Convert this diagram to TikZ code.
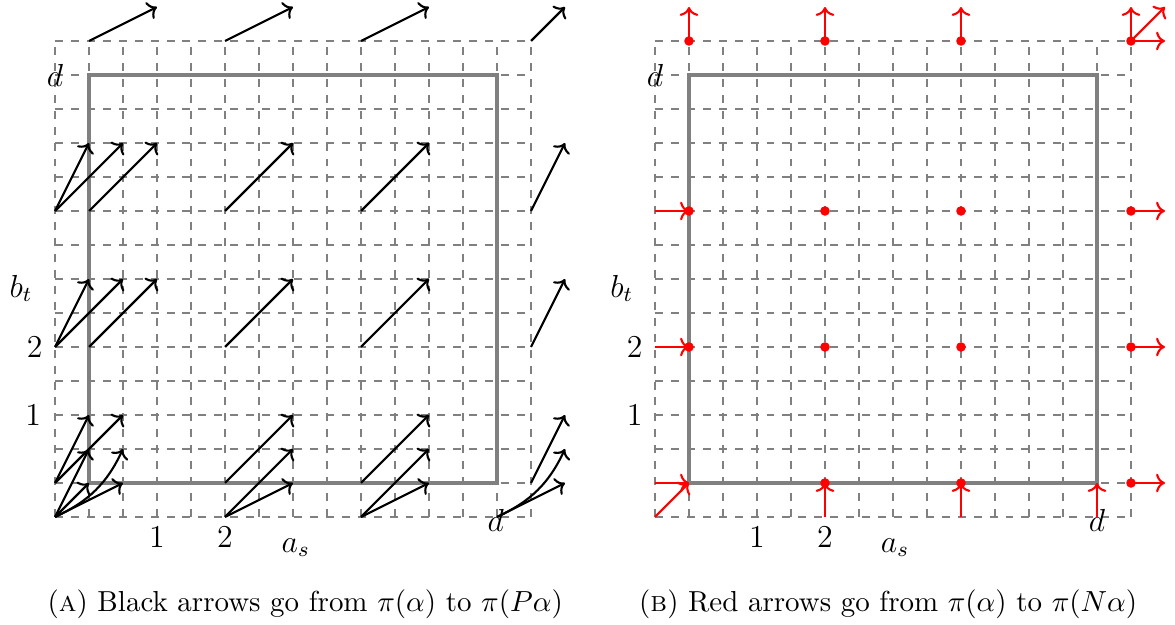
\documentclass[tikz,border=0pt]{standalone}
\usetikzlibrary{arrows.meta}
\begin{document}
\begin{tikzpicture}[x=0.9cm,y=0.9cm,
  gridl/.style={gray, dashed, line width=0.45pt},
  sq/.style={gray, line width=1.2pt},
  barr/.style={->, black, line width=0.8pt},
  rarr/.style={->, red, line width=0.8pt},
  rdot/.style={fill=red, draw=none},
  every node/.style={font=\large},
  captext/.style={inner sep=0pt, font=\fontsize{10.9}{13}\selectfont}]
\useasboundingbox (-1.309,-2.074) rectangle (15.971,7.103);
% ---------------- left panel ----------------
\begin{scope}
\draw[gridl, step=0.5] (-0.5,-0.5) grid (6.5,6.5);
\draw[sq] (0,0) rectangle (6,6);
% top row
\foreach \x in {0,2,4} \draw[barr] (\x,6.5) -- (\x+1,7);
\draw[barr] (6.5,6.5) -- (7,7);
% rows 2 and 4
\foreach \y in {2,4} {
  \draw[barr] (-0.5,\y) -- (0,\y+1);
  \draw[barr] (-0.5,\y) -- (0.5,\y+1);
  \draw[barr] (0,\y) -- (1,\y+1);
  \draw[barr] (2,\y) -- (3,\y+1);
  \draw[barr] (4,\y) -- (5,\y+1);
  \draw[barr] (6.5,\y) -- (7,\y+1);
}
% bottom rows
\draw[barr] (-0.5,0) -- (0,1);
\draw[barr] (-0.5,0) -- (0.5,1);
\draw[barr] (-0.5,-0.5) -- (0,0.5);
\draw[barr] (-0.5,-0.5) -- (0,0);
\draw[barr] (-0.5,-0.5) to[bend right=20] (0.5,0.5);
\draw[barr] (-0.5,-0.5) -- (0.5,0);
\foreach \x in {2,4} {
  \draw[barr] (\x,0) -- (\x+1,1);
  \draw[barr] (\x,-0.5) -- (\x+1,0.5);
  \draw[barr] (\x,-0.5) -- (\x+1,0);
}
\draw[barr] (6.5,0) -- (7,1);
\draw[barr] (6,-0.5) to[bend right=20] (7,0.5);
\draw[barr] (6,-0.5) -- (7,0);
% labels
\node (ld) at (-0.5,6) {$d$};
\node (l1) at (-0.82,1) {$1$};
\node (l2) at (-0.8,2) {$2$};
\node (lb) at (-1.0,2.86) {$b_t$};
\node (lx1) at (1,-0.8) {$1$};
\node (lx2) at (2,-0.8) {$2$};
\node (la) at (3.04,-0.95) {$a_s$};
\node (ldx) at (5.98,-0.55) {$d$};
\node[captext] (capA) at (3.18,-1.79) {(\textsc{a}) Black arrows go from $\pi(\alpha)$ to $\pi(P\alpha)$};
\end{scope}
% ---------------- right panel ----------------
\begin{scope}[xshift=8.8235*0.9cm]
\draw[gridl, step=0.5] (-0.5,-0.5) grid (6.5,6.5);
\draw[sq] (0,0) rectangle (6,6);
% top row
\foreach \x in {0,2,4,6.5} \draw[rarr] (\x,6.5) -- (\x,7);
\draw[rarr] (6.5,6.5) -- (7,7);
\draw[rarr] (6.5,6.5) -- (7,6.5);
% rows 2, 4
\foreach \y in {2,4} {
  \draw[rarr] (-0.5,\y) -- (0,\y);
  \draw[rarr] (6.5,\y) -- (7,\y);
}
% bottom
\draw[rarr] (-0.5,0) -- (0,0);
\draw[rarr] (-0.5,-0.5) -- (0,0);
\foreach \x in {2,4,6} \draw[rarr] (\x,-0.5) -- (\x,0);
\draw[rarr] (6.5,0) -- (7,0);
% dots
\foreach \x in {0,2,4,6.5} {
  \fill[rdot] (\x,6.5) circle (1.8pt);
  \fill[rdot] (\x,4) circle (1.8pt);
  \fill[rdot] (\x,2) circle (1.8pt);
}
\foreach \x in {2,4,6.5} \fill[rdot] (\x,0) circle (1.8pt);
% labels
\node (rd) at (-0.5,6) {$d$};
\node (r1) at (-0.8,1) {$1$};
\node (r2) at (-0.8,2) {$2$};
\node (rb) at (-0.99,2.86) {$b_t$};
\node (rx1) at (1,-0.8) {$1$};
\node (rx2) at (2,-0.8) {$2$};
\node (ra) at (3.03,-0.95) {$a_s$};
\node (rdx) at (6,-0.55) {$d$};
\node[captext] (capB) at (2.93,-1.79) {(\textsc{b}) Red arrows go from $\pi(\alpha)$ to $\pi(N\alpha)$};
\end{scope}
\end{tikzpicture}
\end{document}
